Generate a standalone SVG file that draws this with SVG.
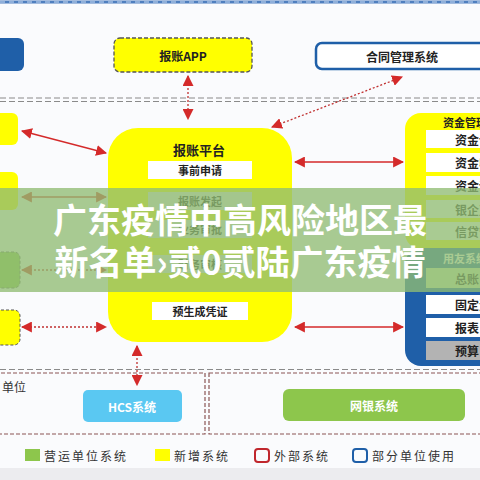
<svg xmlns="http://www.w3.org/2000/svg" width="480" height="480" viewBox="0 0 480 480">
<defs>
<style>
text{font-family:"Noto Sans CJK SC","Noto Sans",sans-serif;}
.lbl{font-size:12px;font-weight:700;fill:#222;text-anchor:middle;dominant-baseline:central;}
.rl{font-size:12px;font-weight:700;fill:#222;dominant-baseline:central;}
.row{fill:#ffffff;}
.sep{fill:none;stroke:#8a8a8a;stroke-width:1.2;stroke-dasharray:6 3;}
.zone{fill:none;stroke:#8a5555;stroke-width:1.2;stroke-dasharray:4 2;}
.solid{fill:none;stroke:#d42a2a;stroke-width:1.3;marker-start:url(#ah);marker-end:url(#ah);}
.dot{fill:none;stroke:#c03030;stroke-width:1.3;stroke-dasharray:2 2;marker-start:url(#ah);marker-end:url(#ah);}
.leg{font-size:12px;fill:#333;letter-spacing:2px;dominant-baseline:central;}
</style>
<marker id="ah" viewBox="0 0 10 10" refX="9" refY="5" markerWidth="11" markerHeight="11" markerUnits="userSpaceOnUse" orient="auto-start-reverse">
<path d="M0,0 L10,5 L0,10 z" fill="#d42a2a"/>
</marker>
</defs>
<rect x="0" y="0" width="480" height="480" fill="#fafbfd"/>
<rect x="0" y="468" width="480" height="12" fill="#ececef"/>
<line x1="0" y1="2" x2="480" y2="2" stroke="#4f7fbf" stroke-width="3"/>
<line x1="0" y1="2" x2="480" y2="2" stroke="#cfe0f5" stroke-width="1" stroke-dasharray="5 4"/>

<g id="separators">
<line class="sep" x1="0" y1="98" x2="480" y2="98"/>
<line class="sep" x1="0" y1="101.5" x2="480" y2="101.5"/>
<line class="sep" x1="0" y1="369.5" x2="480" y2="369.5"/>
<rect class="zone" x="-5" y="373" width="210" height="61"/>
<rect class="zone" x="209" y="373" width="280" height="61"/>
</g>

<g id="node-topleft"><rect x="-10" y="38" width="34" height="33" rx="6" fill="#1f5fa8"/></g>
<g id="node-app">
<rect x="114" y="38" width="138" height="34" rx="6" fill="#ffff00" stroke="#555" stroke-width="1.3" stroke-dasharray="4 2"/>
<text class="lbl" x="183" y="55">报账APP</text>
</g>
<g id="node-contract">
<rect x="316" y="43" width="175" height="26" rx="6" fill="#ffffff" stroke="#1f5fa8" stroke-width="2.5"/>
<text class="lbl" x="402" y="56">合同管理系统</text>
</g>

<g id="left-nodes">
<rect id="l1" x="-10" y="113" width="28" height="32" rx="6" fill="#ffff00"/>
<rect id="l2" x="-10" y="172" width="28" height="38" rx="6" fill="#ffff00"/>
<rect id="l3" x="-10" y="252" width="30" height="36" rx="6" fill="#8dc64c" stroke="#666" stroke-width="1" stroke-dasharray="3 2"/>
<rect id="l4" x="-10" y="310" width="30" height="35" rx="6" fill="#ffff00" stroke="#555" stroke-width="1" stroke-dasharray="3 2"/>
</g>

<g id="node-platform">
<rect x="108" y="128" width="184" height="214" rx="30" fill="#ffff00"/>
<text class="lbl" x="199" y="149" style="font-size:13px">报账平台</text>
<rect class="row" x="148" y="161" width="104" height="18"/>
<text class="lbl" x="200" y="170" style="font-size:11px">事前申请</text>
<rect x="148" y="192" width="104" height="18" fill="#e6e6e6"/>
<text class="lbl" x="200" y="201" style="font-size:11px">报账发起</text>
<rect x="148" y="220" width="104" height="18" fill="#e6e6e6"/>
<text class="lbl" x="200" y="229" style="font-size:11px">业务审批</text>
<rect x="148" y="255" width="104" height="18" fill="#e6e6e6"/>
<text class="lbl" x="200" y="264" style="font-size:11px">财务审核</text>
<rect class="row" x="152" y="302" width="96" height="18"/>
<text class="lbl" x="200" y="311" style="font-size:11px">预生成凭证</text>
</g>

<g id="node-fund">
<rect x="405" y="113" width="100" height="136" rx="16" fill="#ffff00"/>
<text class="rl" x="443" y="122" style="font-size:11px">资金管理</text>
<rect class="row" x="426" y="130" width="60" height="18"/>
<text class="rl" x="455" y="139">资金计划</text>
<rect class="row" x="426" y="153" width="60" height="19"/>
<text class="rl" x="455" y="162">资金收付</text>
<rect class="row" x="426" y="176" width="60" height="19"/>
<text class="rl" x="455" y="185">资金调拨</text>
<rect class="row" x="426" y="200" width="60" height="18"/>
<text class="rl" x="455" y="209">银企直连</text>
<rect class="row" x="426" y="222" width="60" height="18"/>
<text class="rl" x="455" y="231">信贷管理</text>
</g>

<g id="node-erp">
<rect x="405" y="248" width="100" height="118" rx="16" fill="#1f5fa8"/>
<text class="rl" x="443" y="258" style="fill:#fff;font-size:11px">用友系统</text>
<rect x="426" y="268" width="60" height="20" fill="#cde6b0"/>
<text class="rl" x="455" y="278">总账</text>
<rect class="row" x="426" y="295" width="60" height="19"/>
<text class="rl" x="455" y="304">固定资产</text>
<rect class="row" x="426" y="318" width="60" height="19"/>
<text class="rl" x="455" y="327">报表</text>
<rect x="426" y="341" width="60" height="19" fill="#b3b3b3"/>
<text class="rl" x="455" y="350">预算</text>
</g>

<g id="node-hcs">
<text x="2" y="386" style="font-size:12px;fill:#333;dominant-baseline:central">单位</text>
<rect x="83" y="390" width="99" height="32" rx="5" fill="#5ac8f2"/>
<text class="lbl" x="132" y="406" style="fill:#fff">HCS系统</text>
</g>
<g id="node-bank">
<rect x="283" y="389" width="182" height="32" rx="6" fill="#8dc64c"/>
<text class="lbl" x="374" y="405" style="fill:#fff">网银系统</text>
</g>

<g id="connectors">
<line class="dot" x1="188" y1="76" x2="188" y2="119"/>
<line class="dot" x1="272" y1="127" x2="402" y2="77"/>
<line class="solid" x1="22" y1="131" x2="106" y2="153"/>
<line class="solid" x1="22" y1="197" x2="106" y2="197"/>
<line class="dot" x1="22" y1="270" x2="106" y2="270"/>
<line class="dot" x1="22" y1="327" x2="106" y2="327"/>
<line class="solid" x1="295" y1="162" x2="403" y2="162"/>
<line class="solid" x1="295" y1="327" x2="403" y2="327"/>
<line class="dot" x1="137" y1="346" x2="137" y2="385"/>
</g>

<g id="legend">
<rect x="25" y="449" width="15" height="12" fill="#8dc64c"/>
<text class="leg" x="44" y="455">营运单位系统</text>
<rect x="155" y="449" width="15" height="12" fill="#ffff00"/>
<text class="leg" x="174" y="455">新增系统</text>
<rect x="255" y="449" width="14" height="13" rx="3" fill="none" stroke="#c0272d" stroke-width="2"/>
<text class="leg" x="274" y="455">外部系统</text>
<rect x="353" y="449" width="14" height="13" rx="3" fill="none" stroke="#1f5fa8" stroke-width="2"/>
<text class="leg" x="372" y="455">部分单位使用</text>
</g>

<g id="banner">
<rect x="0" y="188" width="480" height="104" fill="rgb(145,188,115)" fill-opacity="0.78"/>
<text x="240" y="233" text-anchor="middle" style="font-size:34px;font-weight:700;fill:#fff">广东疫情中高风险地区最</text>
<text x="240" y="275" text-anchor="middle" style="font-size:34px;font-weight:700;fill:#fff">新名单›贰0贰陆广东疫情</text>
</g>
</svg>
